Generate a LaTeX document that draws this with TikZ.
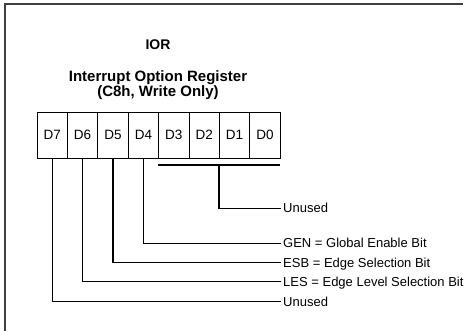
\documentclass[tikz,border=0pt]{standalone}
\usepackage{fontspec}
\setmainfont{Liberation Sans}
\begin{document}
\begin{tikzpicture}[x=1pt,y=-1pt,
  cell/.style={draw,line width=0.8pt,minimum width=30.4pt,minimum height=46pt,inner sep=0pt,font=\fontsize{13.5}{15}\selectfont},
  lbl/.style={anchor=west,inner sep=2.5pt,text height=9.3pt,text depth=0pt,font=\fontsize{13}{15}\selectfont},
  title/.style={anchor=base,inner sep=0pt,font=\bfseries\fontsize{15}{15}\selectfont},
  lead/.style={line width=1.1pt}]
\useasboundingbox (0,0) rectangle (465,331);
\draw[line width=1.3pt,black!75] (463,4) -- (5,4) -- (5,331);
\node[title,font=\bfseries\fontsize{14}{15}\selectfont] (ior) at (158,50) {IOR};
\node[title] (reg1) at (158,81.7) {Interrupt Option Register};
\node[title] (reg2) at (158,96.7) {(C8h, Write Only)};
\foreach \n [count=\i from 0] in {7,6,5,4,3,2,1,0}{
  \node[cell] (d\n) at ({37+15.2+30.4*\i},135) {D\n};
}
\node[lbl] (u0) at (280.5,208.3) {Unused};
\node[lbl] (gen) at (280.5,243.3) {GEN = Global Enable Bit};
\node[lbl] (esb) at (280.5,262.7) {ESB = Edge Selection Bit};
\node[lbl] (les) at (280.5,281.7) {LES = Edge Level Selection Bit};
\node[lbl] (u7) at (280.5,301.7) {Unused};
\coordinate (bl) at (158,165);
\coordinate (br) at (280,165);
\coordinate (bm) at (219,165);
\draw[lead] (bl) -- (br);
\draw[lead] (bm) |- (u0.west);
\draw[lead] (d4.south) |- (gen.west);
\draw[lead] (d5.south) |- (esb.west);
\draw[lead] (d6.south) |- (les.west);
\draw[lead] (d7.south) |- (u7.west);
\end{tikzpicture}
\end{document}
